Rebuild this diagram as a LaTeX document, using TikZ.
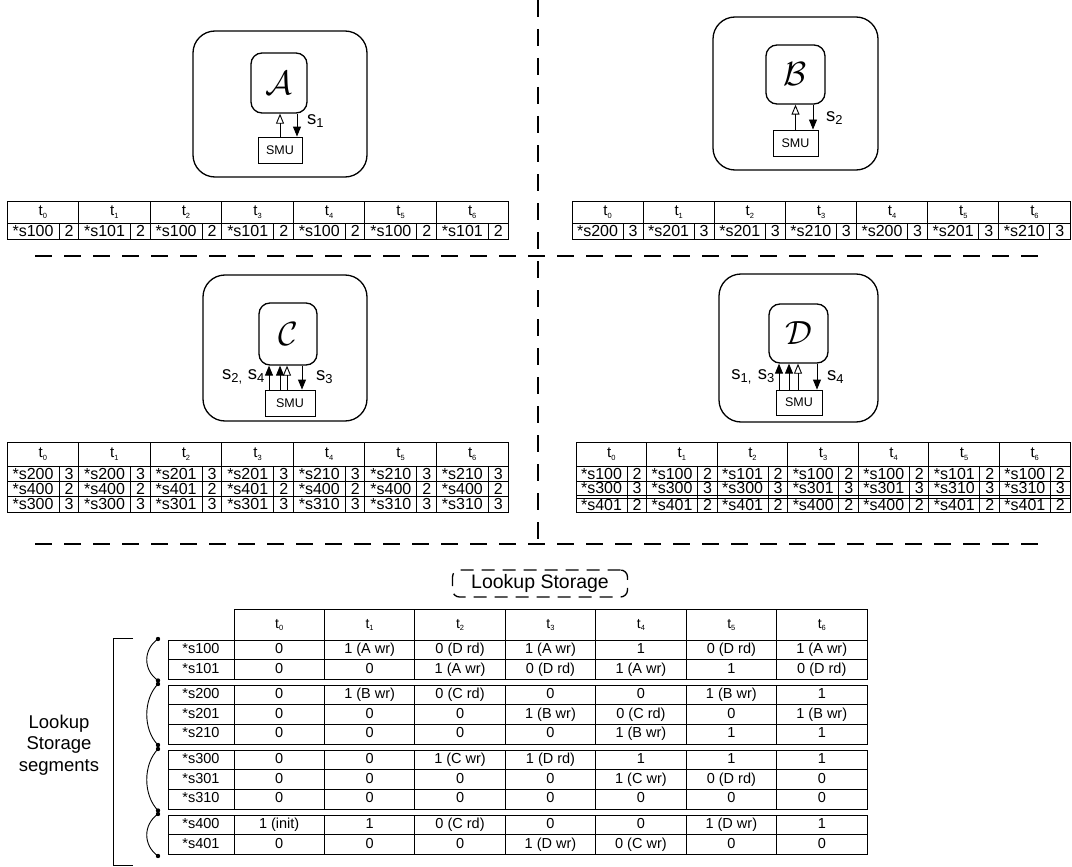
\documentclass[tikz,border=0pt]{standalone}
\usepackage{fontspec}
\setmainfont{Liberation Sans}
\usepackage{amsmath}
\usepackage{amssymb}
\usetikzlibrary{shapes,arrows.meta,positioning,calc}

\newcommand{\tsub}[1]{t\raisebox{-2.5pt}{\fontsize{7.5}{7.5}\selectfont #1}}
\newcommand{\ssub}[1]{s\textsubscript{#1}}
\newcommand{\agentname}[1]{\scalebox{1.35}{$\mathcal{#1}$}}

\tikzset{
  agentbox/.style={draw, line width=1.3pt, rounded corners=22pt, inner sep=0pt},
  corebox/.style={draw, line width=1.3pt, rounded corners=11pt, inner sep=0pt,
                  font=\fontsize{24.88}{25}\selectfont},
  smubox/.style={draw, line width=0.9pt, inner sep=0pt, font=\fontsize{12.5}{14}\selectfont},
  sigfill/.style={line width=0.9pt, -{Triangle[length=10pt,width=8pt]}},
  sigopen/.style={line width=0.9pt, -{Triangle[open,length=10pt,width=8pt]}},
  siglabel/.style={inner sep=0pt, font=\fontsize{18.5}{18.5}\selectfont},
  tabline/.style={line width=0.9pt},
  tabhead/.style={inner sep=0pt, text height=10pt, text depth=3pt, font=\fontsize{15}{15}\selectfont},
  tabcell/.style={inner sep=0pt, text height=11pt, text depth=0pt, font=\fontsize{16}{16}\selectfont},
  lookhead/.style={inner sep=0pt, text height=10pt, text depth=3pt, font=\fontsize{14}{14}\selectfont},
  lookcell/.style={inner sep=0pt, text height=10pt, text depth=3pt, font=\fontsize{14.5}{15}\selectfont},
  sepline/.style={line width=1.4pt, dash pattern=on 17pt off 12pt},
}

\begin{document}
\begin{tikzpicture}[x=1pt, y=-1pt]
\useasboundingbox (0,0) rectangle (1072,867);

% separators
\draw[sepline] (538,0) -- (538,544);
\draw[sepline] (35,256) -- (1040,256);
\draw[sepline] (35,544) -- (1040,544);

% agent A
\node[agentbox, minimum width=174pt, minimum height=146pt] (agA) at (280,104) {};
\node[corebox, minimum width=56pt, minimum height=60pt] (coreA) at (279,83) {\agentname{A}};
\node[smubox, minimum width=44pt, minimum height=26pt] (smuA) at (280,150) {SMU};
\coordinate (dnA) at ([xshift=17pt]smuA.north);
\draw[sigopen] (smuA.north) -- (smuA.north |- coreA.south);
\draw[sigfill] (dnA |- coreA.south) -- (dnA);
\node[siglabel, anchor=west] (sigA) at (307,121) {\ssub{1}};

% agent B
\node[agentbox, minimum width=165pt, minimum height=153pt] (agB) at (795.5,93.5) {};
\node[corebox, minimum width=59pt, minimum height=59pt] (coreB) at (795.5,74.5) {\agentname{B}};
\node[smubox, minimum width=45pt, minimum height=26pt] (smuB) at (795.5,143) {SMU};
\coordinate (dnB) at ([xshift=17.5pt]smuB.north);
\draw[sigopen] (smuB.north) -- (smuB.north |- coreB.south);
\draw[sigfill] (dnB |- coreB.south) -- (dnB);
\node[siglabel, anchor=west] (sigB) at (826,118) {\ssub{2}};

% agent C
\node[agentbox, minimum width=164pt, minimum height=146pt] (agC) at (285,348) {};
\node[corebox, minimum width=58pt, minimum height=62pt] (coreC) at (288,334) {\agentname{C}};
\node[smubox, minimum width=50pt, minimum height=26pt] (smuC) at (290,403) {SMU};
\coordinate (upC1) at ([xshift=-21pt]smuC.north);
\coordinate (upC2) at ([xshift=-10pt]smuC.north);
\coordinate (opC) at ([xshift=-3pt]smuC.north);
\coordinate (dnC) at ([xshift=12pt]smuC.north);
\draw[sigfill] (upC1) -- (upC1 |- coreC.south);
\draw[sigfill] (upC2) -- (upC2 |- coreC.south);
\draw[sigopen] (opC) -- (opC |- coreC.south);
\draw[sigfill] (dnC |- coreC.south) -- (dnC);
\node[siglabel, anchor=east] (sigCin) at (265,377) {\ssub{2,} \ssub{4}};
\node[siglabel, anchor=west] (sigCout) at (316,377) {\ssub{3}};

% agent D
\node[agentbox, minimum width=159pt, minimum height=148pt] (agD) at (798.5,348) {};
\node[corebox, minimum width=59pt, minimum height=59pt] (coreD) at (798.5,333.5) {\agentname{D}};
\node[smubox, minimum width=46pt, minimum height=25pt] (smuD) at (799,402.5) {SMU};
\coordinate (upD1) at ([xshift=-20pt]smuD.north);
\coordinate (upD2) at ([xshift=-10pt]smuD.north);
\coordinate (opD) at ([xshift=-1pt]smuD.north);
\coordinate (dnD) at ([xshift=18pt]smuD.north);
\draw[sigfill] (upD1) -- (upD1 |- coreD.south);
\draw[sigfill] (upD2) -- (upD2 |- coreD.south);
\draw[sigopen] (opD) -- (opD |- coreD.south);
\draw[sigfill] (dnD |- coreD.south) -- (dnD);
\node[siglabel, anchor=east] (sigDin) at (775,377) {\ssub{1,}\hspace{6pt}\ssub{3}};
\node[siglabel, anchor=west] (sigDout) at (827,377) {\ssub{4}};

% table A
\draw[tabline] (7,201) rectangle (508,239) (7,223) -- (508,223);
\foreach \nm/\nv [count=\k from 0] in {s100/2,s101/2,s100/2,s101/2,s100/2,s100/2,s101/2}{
  \draw[tabline] (7+\k*71.57,201) -- (7+\k*71.57,239) (59+\k*71.57,223) -- (59+\k*71.57,239);
  \node[tabhead] (ta-h\k) at (42.8+\k*71.57,212) {\tsub{\k}};
  \node[tabcell] (ta-n\k) at (33+\k*71.57,231) {*\nm};
  \node[tabcell] (ta-v\k) at (69+\k*71.57,231) {\nv};
}

% table B
\draw[tabline] (572,201) rectangle (1070,239) (572,223) -- (1070,223);
\foreach \nm/\nv [count=\k from 0] in {s200/3,s201/3,s201/3,s210/3,s200/3,s201/3,s210/3}{
  \draw[tabline] (572+\k*71.14,201) -- (572+\k*71.14,239) (623+\k*71.14,223) -- (623+\k*71.14,239);
  \node[tabhead] (tb-h\k) at (607.6+\k*71.14,212) {\tsub{\k}};
  \node[tabcell] (tb-n\k) at (597.5+\k*71.14,231) {*\nm};
  \node[tabcell] (tb-v\k) at (633+\k*71.14,231) {\nv};
}

% table C
\draw[tabline] (7,442) rectangle (508,512) (7,466) -- (508,466) (7,481.3) -- (508,481.3) (7,496.6) -- (508,496.6);
\foreach \k in {0,...,6}{
  \draw[tabline] (7+\k*71.57,442) -- (7+\k*71.57,512) (59+\k*71.57,466) -- (59+\k*71.57,512);
  \node[tabhead] (tc-h\k) at (42.8+\k*71.57,454) {\tsub{\k}};
}
\foreach \row [count=\r from 0] in {{s200/3,s200/3,s201/3,s201/3,s210/3,s210/3,s210/3},
  {s400/2,s400/2,s401/2,s401/2,s400/2,s400/2,s400/2},
  {s300/3,s300/3,s301/3,s301/3,s310/3,s310/3,s310/3}}{
  \foreach \nm/\nv [count=\k from 0] in \row{
    \node[tabcell] (tc-n\r\k) at (33+\k*71.57,473.7+\r*15.33) {*\nm};
    \node[tabcell] (tc-v\r\k) at (69+\k*71.57,473.7+\r*15.33) {\nv};
  }
}

% table D
\draw[tabline] (576,442) rectangle (1070,512) (576,466) -- (1070,466) (576,481) -- (1070,481)
  (576,495.5) -- (1070,495.5) (576,498) -- (1070,498);
\foreach \k in {0,...,6}{
  \draw[tabline] (576+\k*70.57,442) -- (576+\k*70.57,512) (627+\k*70.57,466) -- (627+\k*70.57,512);
  \node[tabhead] (td-h\k) at (611.3+\k*70.57,454) {\tsub{\k}};
}
\foreach \row/\yy [count=\r from 0] in {{s100/2,s100/2,s101/2,s100/2,s100/2,s101/2,s100/2}/473.5,
  {s300/3,s300/3,s300/3,s301/3,s301/3,s310/3,s310/3}/488.3,
  {s401/2,s401/2,s401/2,s400/2,s400/2,s401/2,s401/2}/505}{
  \foreach \nm/\nv [count=\k from 0] in \row{
    \node[tabcell] (td-n\r\k) at (601.5+\k*70.57,\yy) {*\nm};
    \node[tabcell] (td-v\r\k) at (637+\k*70.57,\yy) {\nv};
  }
}

% lookup storage
\node[draw, line width=1.3pt, dash pattern=on 13pt off 8pt, rounded corners=7pt,
      minimum width=175pt, minimum height=27pt, inner sep=0pt,
      font=\fontsize{19.5}{19.5}\selectfont] (lookup) at (540,583.5) {Lookup Storage};

\draw[tabline] (234,609) rectangle (867,640);
\foreach \k in {0,...,6}{
  \draw[tabline] (234+\k*90.43,609) -- (234+\k*90.43,640);
  \node[lookhead] (lk-h\k) at (279.2+\k*90.43,624.5) {\tsub{\k}};
}
\foreach \y/\nm/\ca/\cb/\cc/\cd/\ce/\cf/\cg in {
  640/s100/0/1 (A wr)/0 (D rd)/1 (A wr)/1/0 (D rd)/1 (A wr),
  659.75/s101/0/0/1 (A wr)/0 (D rd)/1 (A wr)/1/0 (D rd),
  685/s200/0/1 (B wr)/0 (C rd)/0/0/1 (B wr)/1,
  704.75/s201/0/0/0/1 (B wr)/0 (C rd)/0/1 (B wr),
  724.5/s210/0/0/0/0/1 (B wr)/1/1,
  750/s300/0/0/1 (C wr)/1 (D rd)/1/1/1,
  769.75/s301/0/0/0/0/1 (C wr)/0 (D rd)/0,
  789.5/s310/0/0/0/0/0/0/0,
  815/s400/1 (init)/1/0 (C rd)/0/0/1 (D wr)/1,
  834.75/s401/0/0/0/1 (D wr)/0 (C wr)/0/0}{
  \draw[tabline] (168,\y) rectangle (867,\y+19.75);
  \node[lookcell] (lk-\nm) at (201,\y+9.9) {*\nm};
  \foreach \v [count=\k from 0] in {\ca,\cb,\cc,\cd,\ce,\cf,\cg}{
    \draw[tabline] (234+\k*90.43,\y) -- (234+\k*90.43,\y+19.75);
    \node[lookcell] (lk-\nm-\k) at (279.2+\k*90.43,\y+9.9) {\v};
  }
}

% segments
\foreach \gt/\gb [count=\g] in {639/680.5,684/745,749/810.5,814/856}{
  \coordinate (segtop\g) at (158,\gt);
  \coordinate (segbot\g) at (158,\gb);
  \draw[line width=0.9pt] (segtop\g) .. controls (143,\gt+0.25*\gb-0.25*\gt) and (143,\gb-0.25*\gb+0.25*\gt) .. (segbot\g);
  \fill (segtop\g) circle (2.2pt) (segbot\g) circle (2.2pt);
}
\draw[line width=0.9pt] (133,638) -- (113,638) -- (113,865) -- (133,865);
\node[align=center, inner sep=0pt, font=\fontsize{18.5}{21.5}\selectfont] (segtext) at (59,745) {Lookup\\Storage\\segments};
\end{tikzpicture}
\end{document}
